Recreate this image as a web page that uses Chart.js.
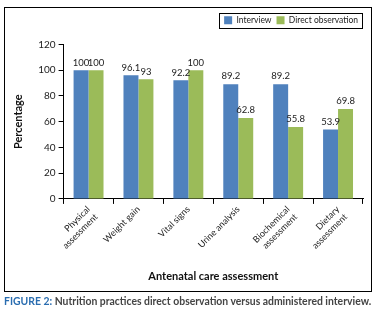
<!DOCTYPE html>
<html>
<head>
<meta charset="utf-8">
<script src="https://cdn.jsdelivr.net/npm/chart.js@4"></script>
<style>
  body { margin: 0; background: #fff; font-family: Lato, "Open Sans", sans-serif; }
  #wrap { position: absolute; left: 0; top: 0; width: 376px; height: 292px; }
  #frame { position: absolute; left: 4px; top: 7px; width: 366px; height: 283px; border: 1.5px solid #000; pointer-events: none; }
  #caption { position: absolute; left: 4px; top: 295px; font-size: 10.4px; font-weight: bold; color: #444; white-space: nowrap; }
  #caption span { color: #2a6db0; }
</style>
</head>
<body>
<div id="wrap"><canvas id="c"></canvas></div>
<div id="frame"></div>
<div id="caption"><span>FIGURE 2:</span> Nutrition practices direct observation versus administered interview.</div>
<script>
const categories = [['Physical', 'assessment'], 'Weight gain', 'Vital signs', 'Urine analysis', ['Biochemical', 'assessment'], ['Dietary', 'assessment']];
const interview = [100, 96.1, 92.2, 89.2, 89.2, 53.9];
const directObs = [100, 93, 100, 62.8, 55.8, 69.8];
const yTicks = [0, 20, 40, 60, 80, 100, 120];

const FONT = 'Lato, "Open Sans", sans-serif';

// value labels above each bar
const valueLabels = {
  id: 'valueLabels',
  afterDatasetsDraw(chart) {
    const ctx = chart.ctx;
    ctx.save();
    ctx.font = '9.5px ' + FONT;
    ctx.fillStyle = '#222';
    ctx.textAlign = 'center';
    ctx.textBaseline = 'bottom';
    chart.data.datasets.forEach((ds, i) => {
      chart.getDatasetMeta(i).data.forEach((bar, j) => {
        ctx.fillText(String(ds.data[j]), bar.x, bar.y - 3);
      });
    });
    ctx.restore();
  },
};

// extra room under the legend
const legendMargin = {
  id: 'legendMargin',
  beforeInit(chart) {
    const fit = chart.legend.fit;
    chart.legend.fit = function () {
      fit.bind(chart.legend)();
      this.height += 10;
    };
  },
};

// border round the legend
const legendBox = {
  id: 'legendBox',
  afterDraw(chart) {
    const boxes = chart.legend.legendHitBoxes;
    if (!boxes || !boxes.length) return;
    const ctx = chart.ctx;
    const l = boxes[0].left - 5;
    const last = boxes[boxes.length - 1];
    const r = last.left + last.width + 4;
    const t = boxes[0].top - 3;
    const b = boxes[0].top + boxes[0].height + 3;
    ctx.save();
    ctx.strokeStyle = '#000';
    ctx.lineWidth = 1;
    ctx.strokeRect(Math.round(l) + 0.5, Math.round(t) + 0.5, Math.round(r - l), Math.round(b - t));
    ctx.restore();
  },
};

new Chart(document.getElementById('c'), {
  type: 'bar',
  data: {
    labels: categories,
    datasets: [
      { label: 'Interview', data: interview, backgroundColor: '#4f81bd', categoryPercentage: 0.6, barPercentage: 1 },
      { label: 'Direct observation', data: directObs, backgroundColor: '#9bbb59', categoryPercentage: 0.6, barPercentage: 1 },
    ],
  },
  options: {
    responsive: true,
    maintainAspectRatio: false,
    animation: false,
    layout: { padding: { left: 8, right: 13, top: 11, bottom: 5 } },
    plugins: {
      legend: {
        position: 'top',
        align: 'end',
        labels: {
          color: '#222',
          font: { size: 8.5, family: FONT },
          boxWidth: 8,
          boxHeight: 8,
          padding: 5,
        },
      },
      tooltip: { enabled: false },
    },
    scales: {
      x: {
        grid: { drawOnChartArea: false, drawTicks: true, tickLength: 5, color: '#000' },
        border: { color: '#000' },
        ticks: { color: '#222', font: { size: 9, family: FONT }, minRotation: 45, maxRotation: 45, padding: 0 },
        title: { display: true, text: 'Antenatal care assessment', color: '#111', font: { size: 11, weight: 'bold', family: FONT }, padding: { top: 12 } },
      },
      y: {
        min: 0,
        max: 120,
        afterBuildTicks: axis => { axis.ticks = yTicks.map(v => ({ value: v })); },
        grid: { drawOnChartArea: false, drawTicks: true, tickLength: 5, color: '#000' },
        border: { color: '#000' },
        ticks: { color: '#222', font: { size: 10, family: FONT }, padding: 3 },
        title: { display: true, text: 'Percentage', color: '#111', font: { size: 11, weight: 'bold', family: FONT }, padding: { bottom: 10 } },
      },
    },
  },
  plugins: [valueLabels, legendMargin, legendBox],
});
</script>
</body>
</html>
